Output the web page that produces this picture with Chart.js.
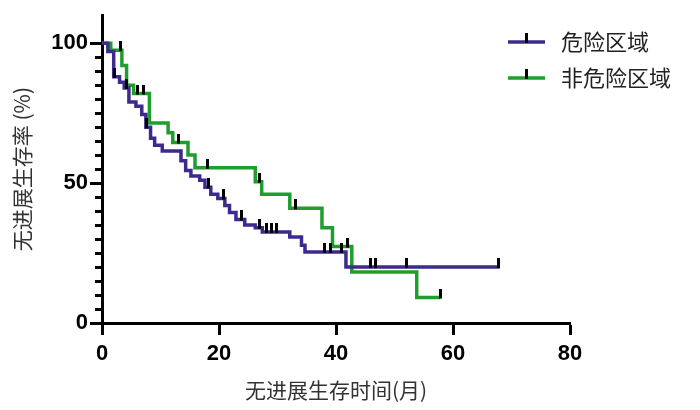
<!DOCTYPE html>
<html><head><meta charset="utf-8">
<script src="https://cdn.jsdelivr.net/npm/chart.js@4.4.1/dist/chart.umd.min.js"></script>
<style>html,body{margin:0;padding:0;background:#fff}</style>
</head><body>
<canvas id="c" width="700" height="410"></canvas>
<script>
// ---- data ----
const seriesNames = ['危险区域', '非危险区域'];
const riskTimes = [0, 1.0, 2.0, 3.0, 3.8, 4.6, 5.8, 6.8, 7.5, 8.3, 9.0, 10.3, 13.5, 14.3, 15.2, 16.7, 17.6, 18.6, 19.8, 21.0, 21.8, 22.9, 24.4, 26.2, 27.4, 32.1, 34.1, 34.7, 41.7, 68];
const riskSurv  = [100, 97, 88, 86, 84, 79, 77.5, 74.5, 70, 66, 63.5, 61.5, 58, 54.5, 52.5, 51, 48.5, 46, 44.5, 42, 39.5, 37, 35, 34, 32.5, 30.7, 27.8, 25.4, 20, 20];
const nonRiskTimes = [0, 1.5, 3.4, 4.2, 5.4, 8.1, 11.3, 12.1, 14.7, 15.9, 26.2, 27.3, 32.1, 37.6, 39.4, 42.7, 53.8, 57.8];
const nonRiskSurv  = [100, 97.5, 92, 85, 82, 71.5, 68, 64.5, 60, 55.5, 50.5, 46, 41, 34, 27.3, 18.2, 9.1, 9.1];
const riskCensorTimes = [2.1, 4.2, 7.6, 18.2, 20.7, 23.9, 27.0, 28.2, 29.0, 29.8, 38.1, 39.0, 41.0, 45.9, 46.8, 52.0, 67.7];
const nonRiskCensorTimes = [3.1, 6.0, 7.1, 13.0, 18.1, 27.0, 33.0, 41.9, 57.8];
const xTickValues = [0, 20, 40, 60, 80];
const yTickLabels = [0, 50, 100];
const xTitle = '无进展生存时间(月)';
const yTitle = '无进展生存率 (%)';

const PURPLE = '#3d2a8c';
const GREEN = '#1f9e2e';

function survAt(times, surv, t) {
  let s = surv[0];
  for (let i = 0; i < times.length; i++) { if (times[i] <= t) s = surv[i]; }
  return s;
}
const toPts = (ts, ss) => ts.map((t, i) => ({x: t, y: ss[i]}));
const censorPts = (cts, ts, ss) => cts.map(t => ({x: t, y: survAt(ts, ss, t)}));

// censor tick glyph: small vertical bar sitting above the line
const tick = document.createElement('canvas');
tick.width = 3; tick.height = 18;
(function(){ const g = tick.getContext('2d'); g.fillStyle = '#000'; g.fillRect(0, 0, 3, 10); })();

const minorTicks = {
  id: 'minorTicks',
  afterDraw(chart) {
    const ctx = chart.ctx, y = chart.scales.y, a = chart.chartArea;
    ctx.save();
    ctx.strokeStyle = '#000'; ctx.lineWidth = 3;
    for (let v = 5; v < 100; v += 5) {
      if (v % 50 === 0) continue;
      const py = Math.round(y.getPixelForValue(v)) + 0.5;
      ctx.beginPath(); ctx.moveTo(a.left - 7, py); ctx.lineTo(a.left, py); ctx.stroke();
    }
    ctx.restore();
  }
};

const legendPlugin = {
  id: 'customLegend',
  afterDraw(chart) {
    const ctx = chart.ctx;
    const items = [[seriesNames[0], PURPLE, 42], [seriesNames[1], GREEN, 78]];
    ctx.save();
    items.forEach(([name, col, y]) => {
      ctx.strokeStyle = col; ctx.lineWidth = 3.5;
      ctx.beginPath(); ctx.moveTo(508, y); ctx.lineTo(545, y); ctx.stroke();
      ctx.drawImage(tick, 526 - 1.5, y - 9);
      ctx.fillStyle = '#222';
      ctx.font = '22px "Noto Sans CJK SC"';
      ctx.textBaseline = 'middle';
      ctx.fillText(name, 561, y);
    });
    ctx.restore();
  }
};

new Chart(document.getElementById('c'), {
  type: 'line',
  data: {
    datasets: [
      { data: censorPts(riskCensorTimes, riskTimes, riskSurv), showLine: false, pointStyle: tick, pointRadius: 5, borderColor: '#000', backgroundColor: '#000' },
      { data: censorPts(nonRiskCensorTimes, nonRiskTimes, nonRiskSurv), showLine: false, pointStyle: tick, pointRadius: 5, borderColor: '#000', backgroundColor: '#000' },
      { label: seriesNames[0], data: toPts(riskTimes, riskSurv), stepped: true, borderColor: PURPLE, borderWidth: 3.5, pointRadius: 0, fill: false },
      { label: seriesNames[1], data: toPts(nonRiskTimes, nonRiskSurv), stepped: true, borderColor: GREEN, borderWidth: 3.5, pointRadius: 0, fill: false }
    ]
  },
  options: {
    responsive: false, devicePixelRatio: 1, animation: false, events: [],
    layout: { padding: { top: 12, right: 130, left: 0, bottom: 0 } },
    plugins: { legend: { display: false }, tooltip: { enabled: false } },
    scales: {
      x: {
        type: 'linear', min: 0, max: 80,
        afterBuildTicks: s => { s.ticks = xTickValues.map(v => ({value: v})); },
        afterFit: s => { s.height = 87; },
        grid: { drawOnChartArea: false, tickLength: 12, tickWidth: 3, tickColor: '#000' },
        border: { color: '#000', width: 3 },
        ticks: { color: '#000', font: { family: 'Liberation Sans', weight: 'bold', size: 22 }, padding: 6, maxRotation: 0 },
        title: { display: true, text: xTitle, color: '#333', font: { family: 'Noto Sans CJK SC', size: 21 }, padding: { top: 4, bottom: 7 } }
      },
      y: {
        type: 'linear', min: 0, max: 110,
        afterBuildTicks: s => { s.ticks = yTickLabels.map(v => ({value: v})); },
        afterFit: s => { s.width = 102; },
        grid: { drawOnChartArea: false, tickLength: 12, tickWidth: 3, tickColor: '#000' },
        border: { color: '#000', width: 3 },
        ticks: { color: '#000', font: { family: 'Liberation Sans', weight: 'bold', size: 22 }, padding: 2 },
        title: { display: true, text: yTitle, color: '#333', font: { family: 'Noto Sans CJK SC', size: 21 }, padding: { top: 9, bottom: 4 } }
      }
    }
  },
  plugins: [minorTicks, legendPlugin]
});
</script>
</body></html>
